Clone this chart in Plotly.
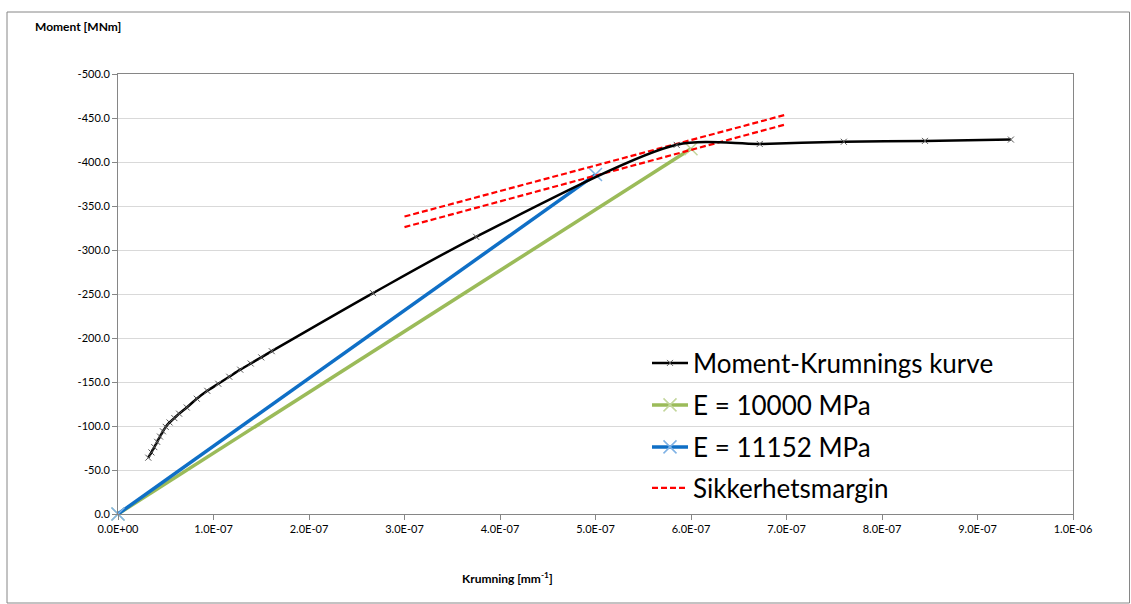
import plotly.graph_objects as go

# ---- data ----
curv_mk = [3.17e-8, 3.5e-8, 3.8e-8, 4.1e-8, 4.4e-8, 4.7e-8, 5.0e-8, 5.4e-8, 5.9e-8,
           6.4e-8, 7.2e-8, 8.25e-8, 9.35e-8, 1.05e-7, 1.165e-7, 1.28e-7, 1.39e-7, 1.5e-7,
           1.61e-7, 2.67e-7, 3.75e-7, 5.85e-7, 6.72e-7, 7.6e-7, 8.45e-7, 9.35e-7]
moment_mk = [-64, -70, -76, -82, -88, -94, -99, -104, -109,
             -114, -121, -131, -140, -148, -156, -164, -171, -178,
             -185, -251, -315, -419.5, -420.5, -423, -424, -425.5]

curv_e10000 = [0.0, 6.0e-7]
moment_e10000 = [0.0, -415.0]

curv_e11152 = [0.0, 5.0e-7]
moment_e11152 = [0.0, -385.7]

curv_margin = [3.0e-7, 7.0e-7]
moment_margin_upper = [-338.0, -454.0]
moment_margin_lower = [-326.0, -443.0]

x_tickvals = [0, 1e-7, 2e-7, 3e-7, 4e-7, 5e-7, 6e-7, 7e-7, 8e-7, 9e-7, 1e-6]
x_ticktext = ["0.0E+00", "1.0E-07", "2.0E-07", "3.0E-07", "4.0E-07", "5.0E-07",
              "6.0E-07", "7.0E-07", "8.0E-07", "9.0E-07", "1.0E-06"]
y_tickvals = [0, -50, -100, -150, -200, -250, -300, -350, -400, -450, -500]
y_ticktext = ["0.0", "-50.0", "-100.0", "-150.0", "-200.0", "-250.0", "-300.0",
              "-350.0", "-400.0", "-450.0", "-500.0"]

FONT = "Lato, 'Open Sans', sans-serif"

fig = go.Figure()

fig.add_trace(go.Scatter(
    x=curv_e10000, y=moment_e10000, mode="lines+markers", name="E = 10000 MPa",
    line=dict(color="#9BBB59", width=3.5),
    marker=dict(symbol="x-thin", size=13, line=dict(color="#C3D69B", width=1.5)),
    cliponaxis=False, legend="legend2"))

fig.add_trace(go.Scatter(
    x=curv_e11152, y=moment_e11152, mode="lines+markers", name="E = 11152 MPa",
    line=dict(color="#0F6FC6", width=3.5),
    marker=dict(symbol="x-thin", size=13, line=dict(color="#7FB2E5", width=1.5)),
    cliponaxis=False, legend="legend3"))

fig.add_trace(go.Scatter(
    x=curv_margin, y=moment_margin_upper, mode="lines", name="Sikkerhetsmargin",
    line=dict(color="#FF0000", width=2.2, dash="6px,3px"), legend="legend4"))
fig.add_trace(go.Scatter(
    x=curv_margin, y=moment_margin_lower, mode="lines", name="Sikkerhetsmargin",
    line=dict(color="#FF0000", width=2.2, dash="6px,3px"), showlegend=False))

fig.add_trace(go.Scatter(
    x=curv_mk, y=moment_mk, mode="lines+markers", name="Moment-Krumnings kurve",
    line=dict(color="#000000", width=2.5, shape="spline", smoothing=0.8),
    marker=dict(symbol="x-thin", size=6, line=dict(color="#555555", width=1)),
    legend="legend"))

leg_common = dict(xanchor="left", yanchor="middle", bgcolor="rgba(0,0,0,0)",
                  font=dict(family=FONT, size=26, color="#000000"), itemwidth=36)
lx = (647 - 118) / 955
fig.update_layout(
    legend=dict(x=lx, y=(514 - 363) / 440, **leg_common),
    legend2=dict(x=lx, y=(514 - 405) / 440, **leg_common),
    legend3=dict(x=lx, y=(514 - 447) / 440, **leg_common),
    legend4=dict(x=lx, y=(514 - 488) / 440, **leg_common),
)

fig.update_layout(
    width=1131, height=604,
    margin=dict(l=118, r=58, t=74, b=90),
    paper_bgcolor="white", plot_bgcolor="white",
    font=dict(family=FONT, size=11, color="#000000"),
    xaxis=dict(range=[0, 1e-6], tickvals=x_tickvals, ticktext=x_ticktext,
               showgrid=False, zeroline=False, showline=True, linecolor="#868686",
               linewidth=1, mirror=True, ticks="outside", ticklen=5, tickcolor="#868686",
               tickfont=dict(family=FONT, size=11)),
    yaxis=dict(range=[0, -500], tickvals=y_tickvals, ticktext=y_ticktext,
               showgrid=True, gridcolor="#D9D9D9", gridwidth=1, zeroline=False,
               showline=True, linecolor="#868686", linewidth=1, mirror=True,
               ticks="outside", ticklen=5, tickcolor="#868686",
               tickfont=dict(family=FONT, size=11)),
    annotations=[
        dict(text="<b>Moment [MNm]</b>", xref="paper", yref="paper",
             x=(33 - 118) / 955, y=(514 - 27) / 440, xanchor="left", yanchor="middle",
             showarrow=False, font=dict(family=FONT, size=12)),
        dict(text="<b>Krumning [mm<sup>-1</sup>]</b>", xref="paper", yref="paper",
             x=(507 - 118) / 955, y=(514 - 578) / 440, xanchor="center", yanchor="middle",
             showarrow=False, font=dict(family=FONT, size=12)),
    ],
    shapes=[
        dict(type="rect", xref="paper", yref="paper",
             x0=(7 - 118) / 955, x1=(1129.5 - 118) / 955,
             y0=(514 - 603) / 440, y1=(514 - 12) / 440,
             line=dict(color="#868686", width=1), layer="below"),
    ],
)

fig.write_html("out.html")
